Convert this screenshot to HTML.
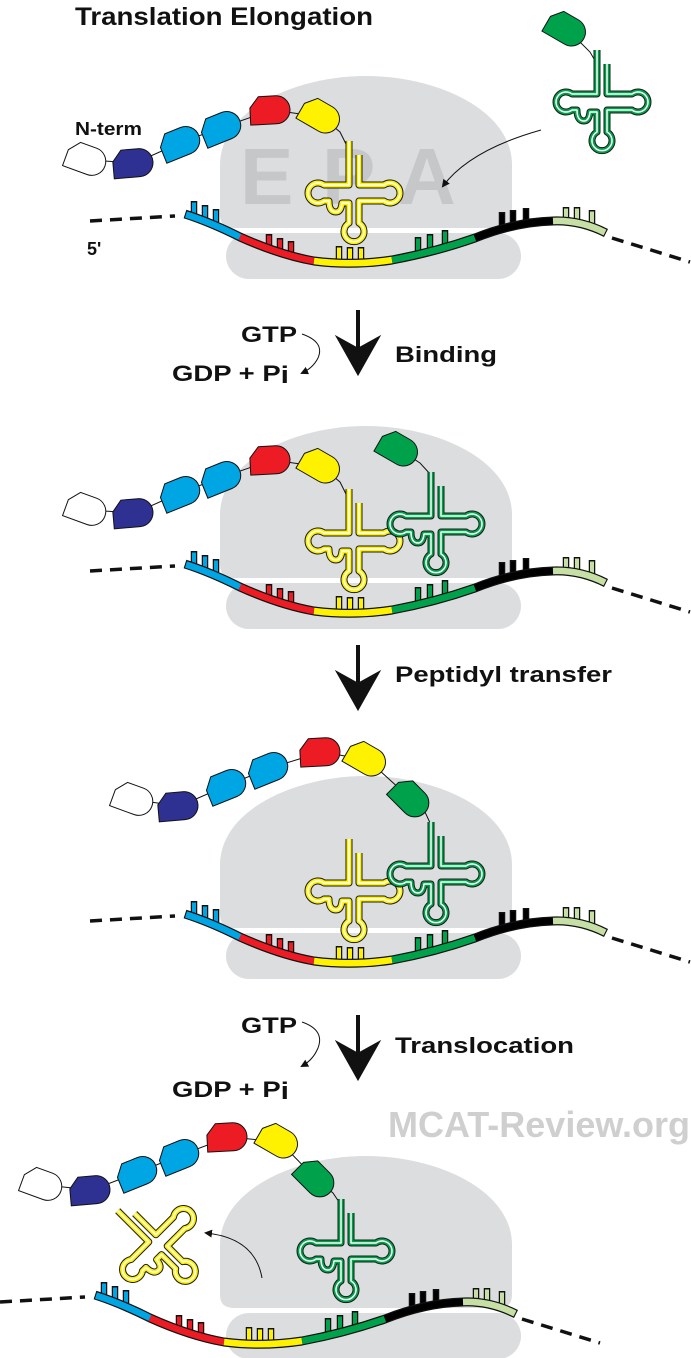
<!DOCTYPE html>
<html><head><meta charset="utf-8"><style>
html,body{margin:0;padding:0;background:#fff}
svg{display:block}
text{font-family:"Liberation Sans",Arial,sans-serif;font-weight:bold}
</style></head><body>
<svg width="691" height="1358" viewBox="0 0 691 1358" xmlns="http://www.w3.org/2000/svg" xmlns:xlink="http://www.w3.org/1999/xlink">
<defs>
<path id="tp" fill="none" stroke-linejoin="round" d="M-5,-52 L-5,-8 L-30,-8 A10,10 0 1 0 -30,8 L-25,8 Q-25,19 -18,19 Q-13,19 -12,10 L-5,10 L-5,30 A10,10 0 1 0 5,30 L5,8 L30,8 A10,10 0 1 0 30,-8 L5,-8 L5,-38"/>
<g id="ty"><use xlink:href="#tp" stroke="#1a1a1a" stroke-width="7"/><use xlink:href="#tp" stroke="#fff200" stroke-width="5"/><use xlink:href="#tp" stroke="#fff" stroke-width="1.5"/></g>
<g id="tg"><use xlink:href="#tp" stroke="#1a1a1a" stroke-width="7"/><use xlink:href="#tp" stroke="#00a14b" stroke-width="5"/><use xlink:href="#tp" stroke="#fff" stroke-width="1.5"/></g>
<path id="bl" stroke="#111" stroke-width="1" d="M-22,-3 L-13,-14 L4,-14 A14,14 0 0 1 4,14 L-22,14 Z"/>
<g id="ribo">
<path fill="#dcdddf" d="M220,215 L220,165 C220,110 295,76 366,76 C437,76 512,110 512,165 L512,215 Q512,228 498,228 L234,228 Q220,228 220,215 Z"/>
<rect x="226" y="233" width="295" height="46" rx="23" fill="#dcdddf"/>
</g>
<g id="mrna" fill="none">
<path d="M90,221 L175,216 M612,238 L690,262" stroke="#111" stroke-width="3.5" stroke-dasharray="12,8"/>
<g stroke="#111" stroke-width="6.5">
<path d="M194,214 V201 M205,218 V205 M216,222 V209"/>
<path d="M269,250 V234 M280,254 V238 M291,257 V241"/>
<path d="M339,262 V246 M350,263 V247 M361,263 V247"/>
<path d="M418,253 V237 M430,250 V234 M445,246 V230"/>
<path d="M502,230 V212 M513,227 V210 M526,224 V208"/>
<path d="M566,222 V207 M577,222 V207 M592,225 V210"/>
</g>
<path d="M194,214 V202.5 M205,218 V206.5 M216,222 V210.5" stroke="#00a6e4" stroke-width="4"/>
<path d="M269,250 V235.5 M280,254 V239.5 M291,257 V242.5" stroke="#ed1c24" stroke-width="4"/>
<path d="M339,262 V247.5 M350,263 V248.5 M361,263 V248.5" stroke="#fff200" stroke-width="4"/>
<path d="M418,253 V238.5 M430,250 V235.5 M445,246 V231.5" stroke="#00a14b" stroke-width="4"/>
<path d="M502,230 V213.5 M513,227 V211.5 M526,224 V209.5" stroke="#000" stroke-width="4"/>
<path d="M566,222 V208.5 M577,222 V208.5 M592,225 V211.5" stroke="#c5dfa5" stroke-width="4"/>
<path d="M185,214 Q210,222 240,237 Q280,255 314,261 Q352,266 392,260 Q435,252 475,238 Q515,222 553,221 Q580,220 606,233" stroke="#111" stroke-width="9"/>
<path d="M186,214.5 Q210,222 240,237" stroke="#00a6e4" stroke-width="6.5"/>
<path d="M240,237 Q280,255 314,261" stroke="#ed1c24" stroke-width="6.5"/>
<path d="M314,261 Q352,266 392,260" stroke="#fff200" stroke-width="6.5"/>
<path d="M392,260 Q435,252 475,238" stroke="#00a14b" stroke-width="6.5"/>
<path d="M475,238 Q515,222 553,221" stroke="#000" stroke-width="6.5"/>
<path d="M553,221 Q580,220 605,232.5" stroke="#c5dfa5" stroke-width="6.5"/>
</g>
<marker id="ah" markerWidth="8" markerHeight="8" refX="6" refY="4" orient="auto" markerUnits="userSpaceOnUse"><path d="M0,0 L8,4 L0,8 Z" fill="#111"/></marker>
<path id="big" d="M358,0 L358,38 M340,30 L358,62 L376,30 L358,40 Z"/>
</defs>

<use xlink:href="#ribo"/>
<g font-size="80" fill="#c6c7c9"><text x="240" y="204">E</text><text x="322" y="204">P</text><text x="398" y="204">A</text></g>
<use xlink:href="#ribo" transform="translate(0,350)"/>
<use xlink:href="#ribo" transform="translate(0,700)"/>
<use xlink:href="#ribo" transform="translate(0,1080)"/>

<use xlink:href="#mrna"/>
<use xlink:href="#mrna" transform="translate(0,350)"/>
<use xlink:href="#mrna" transform="translate(0,700)"/>
<use xlink:href="#mrna" transform="translate(-90,1081)"/>

<text x="75" y="25" font-size="25" fill="#111" textLength="298" lengthAdjust="spacingAndGlyphs">Translation Elongation</text>
<text x="75" y="135" font-size="18" fill="#111" textLength="67" lengthAdjust="spacingAndGlyphs">N-term</text>
<text x="87" y="255" font-size="18" fill="#111">5'</text>

<!-- panel 1 -->
<polyline fill="none" stroke="#111" stroke-width="1" points="88,160 135,163 182,142 223,127 272,110 322,117 340,132 349,150"/>
<use xlink:href="#bl" fill="#fff" transform="translate(88,160) rotate(20)"/>
<use xlink:href="#bl" fill="#2e3192" transform="translate(135,163) rotate(-5)"/>
<use xlink:href="#bl" fill="#00a6e4" transform="translate(182,142) rotate(-22)"/>
<use xlink:href="#bl" fill="#00a6e4" transform="translate(223,127) rotate(-22)"/>
<use xlink:href="#bl" fill="#ed1c24" transform="translate(272,110) rotate(-3)"/>
<use xlink:href="#bl" fill="#fff200" transform="translate(322,117) rotate(30)"/>
<use xlink:href="#ty" transform="translate(354,193)"/>
<polyline fill="none" stroke="#111" stroke-width="1" points="568,30 590,52 597,64"/>
<use xlink:href="#bl" fill="#00a14b" transform="translate(568,30) rotate(30)"/>
<use xlink:href="#tg" transform="translate(602,102)"/>
<path d="M541,130 Q470,150 443,186" fill="none" stroke="#111" stroke-width="1" marker-end="url(#ah)"/>

<use xlink:href="#big" transform="translate(0,310)" fill="#111" stroke="#111" stroke-width="4"/>
<text x="395" y="362" font-size="22" fill="#111" textLength="102" lengthAdjust="spacingAndGlyphs">Binding</text>
<text x="241" y="342" font-size="22" fill="#111" textLength="56" lengthAdjust="spacingAndGlyphs">GTP</text>
<text x="172" y="381" font-size="22" fill="#111" textLength="117" lengthAdjust="spacingAndGlyphs">GDP + P<tspan font-size="24" dy="2">i</tspan></text>
<path d="M302,334 Q325,342 318,358 Q313,368 302,373" fill="none" stroke="#111" stroke-width="1" marker-end="url(#ah)"/>

<!-- panel 2 -->
<polyline fill="none" stroke="#111" stroke-width="1" points="88,510 135,513 182,492 223,477 272,460 322,467 340,482 349,500"/>
<use xlink:href="#bl" fill="#fff" transform="translate(88,510) rotate(20)"/>
<use xlink:href="#bl" fill="#2e3192" transform="translate(135,513) rotate(-5)"/>
<use xlink:href="#bl" fill="#00a6e4" transform="translate(182,492) rotate(-22)"/>
<use xlink:href="#bl" fill="#00a6e4" transform="translate(223,477) rotate(-22)"/>
<use xlink:href="#bl" fill="#ed1c24" transform="translate(272,460) rotate(-3)"/>
<use xlink:href="#bl" fill="#fff200" transform="translate(322,467) rotate(30)"/>
<use xlink:href="#ty" transform="translate(354,541)"/>
<polyline fill="none" stroke="#111" stroke-width="1" points="400,450 420,463 431,475"/>
<use xlink:href="#bl" fill="#00a14b" transform="translate(400,450) rotate(30)"/>
<use xlink:href="#tg" transform="translate(436,524)"/>

<use xlink:href="#big" transform="translate(0,645)" fill="#111" stroke="#111" stroke-width="4"/>
<text x="395" y="682" font-size="22" fill="#111" textLength="217" lengthAdjust="spacingAndGlyphs">Peptidyl transfer</text>

<!-- panel 3 -->
<polyline fill="none" stroke="#111" stroke-width="1" points="135,800 180,806 228,785 270,768 322,752 368,760 412,800 425,812 431,825"/>
<use xlink:href="#bl" fill="#fff" transform="translate(135,800) rotate(20)"/>
<use xlink:href="#bl" fill="#2e3192" transform="translate(180,806) rotate(-5)"/>
<use xlink:href="#bl" fill="#00a6e4" transform="translate(228,785) rotate(-22)"/>
<use xlink:href="#bl" fill="#00a6e4" transform="translate(270,768) rotate(-22)"/>
<use xlink:href="#bl" fill="#ed1c24" transform="translate(322,752) rotate(-3)"/>
<use xlink:href="#bl" fill="#fff200" transform="translate(368,760) rotate(30)"/>
<use xlink:href="#bl" fill="#00a14b" transform="translate(412,800) rotate(45)"/>
<use xlink:href="#ty" transform="translate(354,891)"/>
<use xlink:href="#tg" transform="translate(436,874)"/>

<use xlink:href="#big" transform="translate(0,1015)" fill="#111" stroke="#111" stroke-width="4"/>
<text x="395" y="1053" font-size="22" fill="#111" textLength="179" lengthAdjust="spacingAndGlyphs">Translocation</text>
<text x="241" y="1033" font-size="22" fill="#111" textLength="56" lengthAdjust="spacingAndGlyphs">GTP</text>
<text x="172" y="1097" font-size="22" fill="#111" textLength="117" lengthAdjust="spacingAndGlyphs">GDP + P<tspan font-size="24" dy="2">i</tspan></text>
<path d="M302,1022 Q325,1030 318,1048 Q313,1060 302,1066" fill="none" stroke="#111" stroke-width="1" marker-end="url(#ah)"/>
<text x="388" y="1137" font-size="36" fill="#cfcfd0" textLength="302" lengthAdjust="spacingAndGlyphs">MCAT-Review.org</text>

<!-- panel 4 -->
<polyline fill="none" stroke="#111" stroke-width="1" points="44,1185 92,1190 139,1172 181,1155 229,1137 280,1142 317,1180 333,1193 341,1205"/>
<use xlink:href="#bl" fill="#fff" transform="translate(44,1185) rotate(20)"/>
<use xlink:href="#bl" fill="#2e3192" transform="translate(92,1190) rotate(-5)"/>
<use xlink:href="#bl" fill="#00a6e4" transform="translate(139,1172) rotate(-22)"/>
<use xlink:href="#bl" fill="#00a6e4" transform="translate(181,1155) rotate(-22)"/>
<use xlink:href="#bl" fill="#ed1c24" transform="translate(229,1137) rotate(-3)"/>
<use xlink:href="#bl" fill="#fff200" transform="translate(280,1142) rotate(30)"/>
<use xlink:href="#bl" fill="#00a14b" transform="translate(317,1180) rotate(45)"/>
<use xlink:href="#tg" transform="translate(346,1251)"/>
<use xlink:href="#ty" transform="translate(158,1244) rotate(-45)"/>
<path d="M262,1278 Q255,1238 206,1233" fill="none" stroke="#111" stroke-width="1" marker-end="url(#ah)"/>
</svg>
</body></html>
